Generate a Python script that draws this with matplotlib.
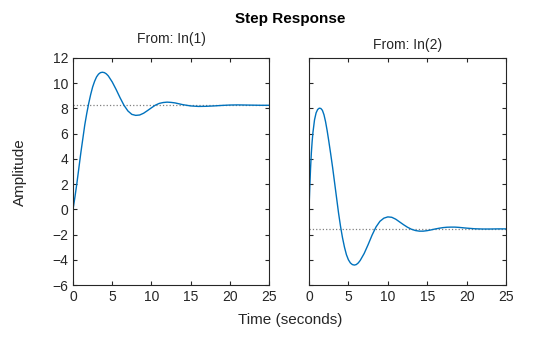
import numpy as np
import matplotlib.pyplot as plt

plt.rcParams['font.family'] = ['Liberation Sans', 'DejaVu Sans']

# step response from input 1
t1 = [0, 0.25, 0.5, 0.75, 1.0, 1.25, 1.5, 1.75, 2.0, 2.25, 2.5, 2.75, 3.0, 3.25,
      3.5, 3.75, 4.0, 4.25, 4.5, 5.0, 5.5, 6.0, 6.5, 7.0, 7.5, 8.0, 8.5, 9.0,
      9.5, 10.0, 10.5, 11.0, 11.5, 12.0, 12.5, 13.0, 13.5, 14.0, 15.0, 16.0,
      17.0, 18.0, 19.0, 20.0, 21.0, 22.0, 23.0, 24.0, 25.0]
y1 = [0, 1.0, 2.1, 3.3, 4.5, 5.6, 6.7, 7.6, 8.4, 9.1, 9.7, 10.15, 10.5, 10.72,
      10.84, 10.87, 10.84, 10.74, 10.58, 10.1, 9.5, 8.85, 8.25, 7.8, 7.53, 7.45,
      7.48, 7.62, 7.83, 8.05, 8.26, 8.4, 8.47, 8.5, 8.48, 8.44, 8.37, 8.3, 8.2,
      8.16, 8.17, 8.2, 8.24, 8.27, 8.28, 8.27, 8.26, 8.25, 8.25]
ss1 = 8.25

# step response from input 2
t2 = [0, 0.1, 0.2, 0.3, 0.4, 0.5, 0.7, 0.9, 1.1, 1.3, 1.5, 1.7, 1.9, 2.1, 2.3,
      2.5, 2.75, 3.0, 3.25, 3.5, 3.75, 4.0, 4.25, 4.5, 4.75, 5.0, 5.25, 5.5,
      5.75, 6.0, 6.25, 6.5, 7.0, 7.5, 8.0, 8.5, 9.0, 9.5, 10.0, 10.5, 11.0,
      11.5, 12.0, 12.5, 13.0, 13.5, 14.0, 14.5, 15.0, 15.5, 16.0, 16.5, 17.0,
      17.5, 18.0, 18.5, 19.0, 19.5, 20.0, 21.0, 22.0, 23.0, 24.0, 25.0]
y2 = [0, 1.8, 3.3, 4.5, 5.4, 6.1, 7.1, 7.65, 7.92, 8.02, 8.0, 7.85, 7.5, 6.95,
      6.25, 5.45, 4.4, 3.3, 2.1, 0.9, -0.3, -1.35, -2.25, -3.0, -3.6, -4.0,
      -4.25, -4.38, -4.42, -4.38, -4.25, -4.05, -3.5, -2.8, -2.05, -1.4, -0.95,
      -0.7, -0.6, -0.63, -0.78, -1.0, -1.22, -1.42, -1.58, -1.68, -1.73, -1.73,
      -1.69, -1.63, -1.56, -1.5, -1.45, -1.42, -1.41, -1.41, -1.43, -1.46,
      -1.49, -1.54, -1.56, -1.56, -1.55, -1.55]
ss2 = -1.55

xticks = [0, 5, 10, 15, 20, 25]
yticks = [-6, -4, -2, 0, 2, 4, 6, 8, 10, 12]

fig = plt.figure(figsize=(5.6, 3.37), dpi=100)
ax1 = fig.add_axes([0.1304, 0.1543, 0.35, 0.6736])
ax2 = fig.add_axes([0.5518, 0.1543, 0.3518, 0.6736])

for ax, t, y, ss in [(ax1, t1, y1, ss1), (ax2, t2, y2, ss2)]:
    ax.plot([0, 25], [ss, ss], ':', color='#808080', linewidth=0.9)
    ax.plot(t, y, color='#0072BD', linewidth=1.0)
    ax.set_xlim(0, 25)
    ax.set_ylim(-6, 12)
    ax.set_xticks(xticks)
    ax.set_yticks(yticks)
    ax.tick_params(direction='in', top=True, right=True, length=3,
                   labelsize=10, colors='#262626', width=0.8)
    for s in ax.spines.values():
        s.set_color('#262626')
        s.set_linewidth(0.8)

ax2.set_yticklabels([])

fig.text(0.518, 0.945, 'Step Response', ha='center', va='center',
         fontsize=11, fontweight='bold')
fig.text(0.3054, 0.885, 'From: In(1)', ha='center', va='center', fontsize=10,
         color='#262626')
fig.text(0.7277, 0.866, 'From: In(2)', ha='center', va='center', fontsize=10,
         color='#262626')
fig.text(0.036, 0.49, 'Amplitude', rotation=90, ha='center', va='center',
         fontsize=11, color='#262626')
fig.text(0.518, 0.05, 'Time (seconds)', ha='center', va='center',
         fontsize=11, color='#262626')

fig.savefig('out.png', dpi=100)
